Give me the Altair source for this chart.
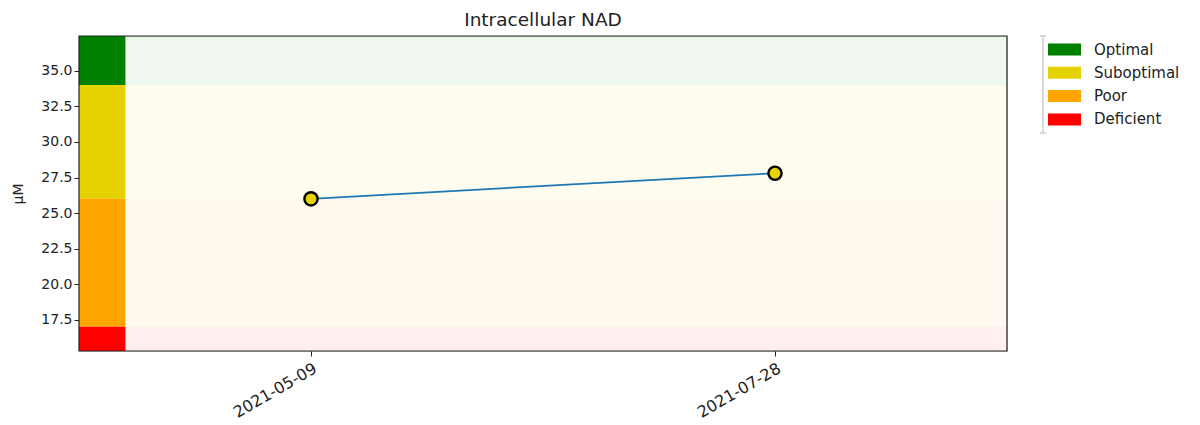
import altair as alt
import pandas as pd

# ---- data ----
chart_title = "Intracellular NAD"
y_title = "μM"
dates = ["2021-05-09", "2021-07-28"]
values = [26.0, 27.8]

band_names = ["Optimal", "Suboptimal", "Poor", "Deficient"]
band_colors = ["#008000", "#e6d200", "#ffa500", "#ff0000"]
band_lower = [34.0, 26.0, 17.0, None]
band_upper = [None, 34.0, 26.0, 17.0]

y_domain = [15.3, 37.45]
x_domain = ["2021-03-30", "2021-09-06"]
strip_end = "2021-04-07"
y_ticks = [17.5, 20.0, 22.5, 25.0, 27.5, 30.0, 32.5, 35.0]

FONT = "DejaVu Sans"
INK = "#222222"


def dt(s):
    y, m, d = (int(p) for p in s.split("-"))
    return alt.DateTime(year=y, month=m, date=d, utc=True)


lo = [y_domain[0] if v is None else v for v in band_lower]
hi = [y_domain[1] if v is None else v for v in band_upper]
bands = pd.DataFrame({
    "band": band_names,
    "lo": lo,
    "hi": hi,
    "start": [x_domain[0]] * len(band_names),
    "end": [strip_end] * len(band_names),
})


def band_color(v):
    for c, a, b in zip(band_colors, lo, hi):
        if a <= v < b:
            return c
    return band_colors[0]


points = pd.DataFrame({"date": dates, "value": values,
                       "pt_color": [band_color(v) for v in values]})

x_scale = alt.Scale(type="utc", domain=[dt(x_domain[0]), dt(x_domain[1])])
y_scale = alt.Scale(domain=y_domain, nice=False, zero=False)
fill_scale = alt.Scale(domain=band_names, range=band_colors)

legend = alt.Legend(
    title=None,
    orient="none",
    legendX=978,
    legendY=6,
    symbolType="M-2.2,-0.8H2.2V0.8H-2.2Z",
    symbolSize=225,
    symbolStrokeWidth=0,
    symbolOpacity=1,
    labelFontSize=15,
    labelFont=FONT,
    labelColor=INK,
    labelOffset=22,
    rowPadding=7.3,
)

x_axis = alt.Axis(
    values=[dt(d) for d in dates],
    labelExpr="utcFormat(datum.value, '%Y-%m-%d')",
    labelAngle=330,
    labelAlign="right",
    labelBaseline="top",
    labelFontSize=16,
    labelFont=FONT,
    labelColor=INK,
    tickSize=5,
    tickColor=INK,
    domain=False,
    grid=False,
    title=None,
    labelPadding=4,
)
y_axis = alt.Axis(
    values=y_ticks,
    format=".1f",
    labelFontSize=14,
    labelFont=FONT,
    labelColor=INK,
    tickSize=5,
    tickColor=INK,
    domain=False,
    grid=False,
    title=y_title,
    titleFont=FONT,
    titleFontSize=14,
    titleFontWeight="normal",
    titleColor=INK,
    titlePadding=15,
)

band_bg = alt.Chart(bands).mark_rect(
    opacity=0.06, strokeOpacity=0.12, strokeWidth=1.5
).encode(
    y=alt.Y("lo:Q", scale=y_scale, axis=y_axis),
    y2="hi:Q",
    fill=alt.Fill("band:N", scale=fill_scale, legend=legend),
    stroke=alt.Stroke("band:N", scale=fill_scale, legend=None),
)

strip = alt.Chart(bands).mark_rect(opacity=1).encode(
    x=alt.X("start:T", scale=x_scale, axis=x_axis),
    x2="end:T",
    y=alt.Y("lo:Q", scale=y_scale),
    y2="hi:Q",
    fill=alt.Fill("band:N", scale=fill_scale, legend=legend),
)

line = alt.Chart(points).mark_line(color="#1f77b4", strokeWidth=1.8).encode(
    x=alt.X("date:T", scale=x_scale),
    y=alt.Y("value:Q", scale=y_scale),
)

dots = alt.Chart(points).mark_point(
    filled=True, shape="circle", size=175, stroke="#000", strokeWidth=2.4, opacity=1
).encode(
    x=alt.X("date:T", scale=x_scale),
    y=alt.Y("value:Q", scale=y_scale),
    fill=alt.Fill("pt_color:N", scale=None),
)

one = pd.DataFrame({"k": [0]})
frame = alt.Chart(one).mark_rect(
    fillOpacity=0, stroke=INK, strokeWidth=1.2
).encode(
    x=alt.value(0), x2=alt.value("width"), y=alt.value(0), y2=alt.value("height")
)
bracket = alt.Chart(one).mark_rule(color="#cccccc", strokeWidth=1.5).encode(
    x=alt.value(964), y=alt.value(0), y2=alt.value(97)
)
cap_top = alt.Chart(one).mark_rule(color="#cccccc", strokeWidth=1.5).encode(
    x=alt.value(961), x2=alt.value(967), y=alt.value(0)
)
cap_bot = alt.Chart(one).mark_rule(color="#cccccc", strokeWidth=1.5).encode(
    x=alt.value(961), x2=alt.value(967), y=alt.value(97)
)

chart = alt.layer(
    band_bg, strip, line, dots, frame, bracket, cap_top, cap_bot
).properties(
    width=928,
    height=315,
    title=alt.TitleParams(
        chart_title, font=FONT, fontSize=18.5, fontWeight="normal",
        color=INK, anchor="middle", frame="group", offset=6,
    ),
    padding={"left": 3, "top": 2, "right": 5, "bottom": 5},
).configure_view(
    stroke=None
).configure(font=FONT)

chart.save("out.html", embed_options={"renderer": "svg", "actions": False})
